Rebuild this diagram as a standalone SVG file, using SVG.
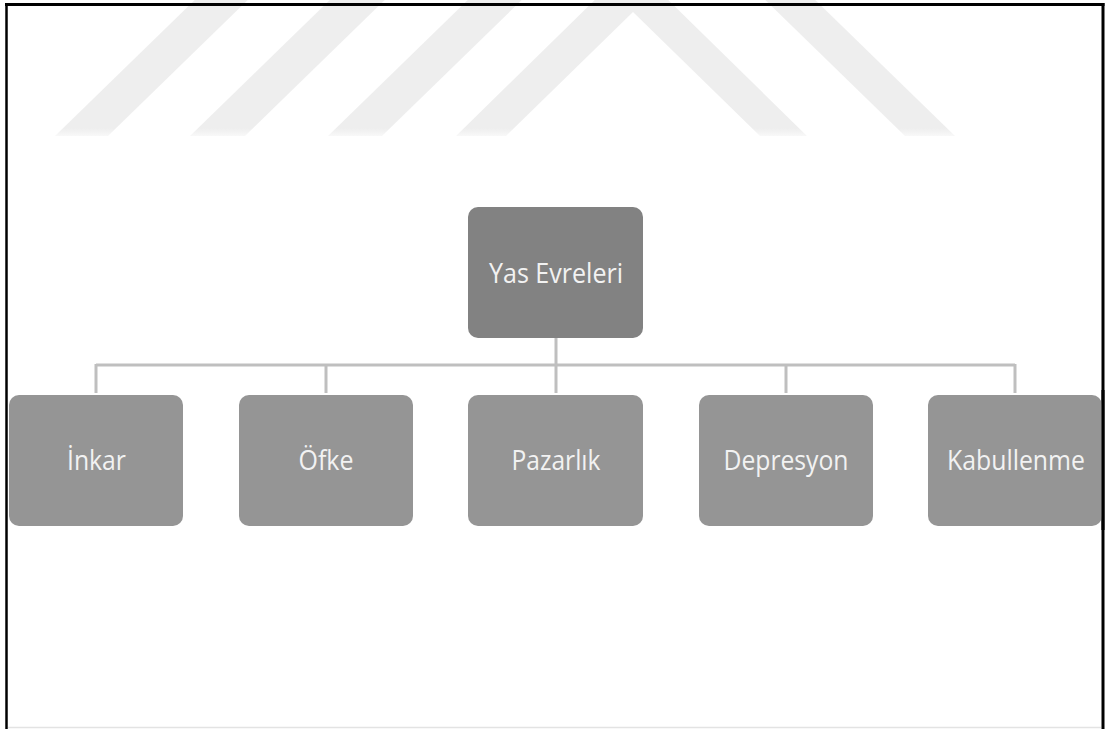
<svg xmlns="http://www.w3.org/2000/svg" width="1107" height="729" viewBox="0 0 1107 729">
  <defs>
    <linearGradient id="fade" gradientUnits="userSpaceOnUse" x1="0" y1="0" x2="0" y2="138">
      <stop offset="0" stop-color="#eeeeee"/>
      <stop offset="0.93" stop-color="#eeeeee"/>
      <stop offset="1" stop-color="#fbfbfb"/>
    </linearGradient>
    <style>
      .stripe { fill: url(#fade); }
      .top { fill: #828282; }
      .child { fill: #959595; }
      .lbl { font-family: "Open Sans", "Noto Sans", sans-serif; font-size: 27px; fill: #f2f2f2; text-anchor: middle; }
      .conn { stroke: #bfbfbf; stroke-width: 3; fill: none; }
    </style>
  </defs>
  <rect x="0" y="0" width="1107" height="729" fill="#ffffff"/>
  <g id="watermark">
    <polygon class="stripe" points="55,136 108,136 258,-10 205,-10"/>
    <polygon class="stripe" points="190,136 245,136 395,-10 340,-10"/>
    <polygon class="stripe" points="328,136 382,136 532,-10 478,-10"/>
    <polygon class="stripe" points="456,136 506,136 633,12 760,136 807,136 631.5,-36"/>
    <polygon class="stripe" points="905,136 955,136 805,-10 755,-10"/>
  </g>
  <g id="frame">
    <line x1="5" y1="4.5" x2="1104.5" y2="4.5" stroke="#000" stroke-width="3"/>
    <line x1="6.5" y1="3" x2="6.5" y2="729" stroke="#000" stroke-width="2.5"/>
    <line x1="1103" y1="3" x2="1103" y2="729" stroke="#000" stroke-width="3"/>
    <line x1="8" y1="727.5" x2="1101" y2="727.5" stroke="#e3e3e3" stroke-width="1.5"/>
  </g>
  <g id="connectors">
    <line class="conn" x1="556" y1="338" x2="556" y2="393"/>
    <line class="conn" x1="96" y1="365" x2="1015" y2="365"/>
    <line class="conn" x1="96" y1="364" x2="96" y2="393"/>
    <line class="conn" x1="326" y1="364" x2="326" y2="393"/>
    <line class="conn" x1="786" y1="364" x2="786" y2="393"/>
    <line class="conn" x1="1015" y1="364" x2="1015" y2="393"/>
  </g>
  <g id="node-root">
    <rect class="top" x="468" y="207" width="175" height="131" rx="10"/>
    <text class="lbl" x="556" y="283" textLength="134" lengthAdjust="spacingAndGlyphs">Yas Evreleri</text>
  </g>
  <g id="node-inkar">
    <rect class="child" x="9" y="395" width="174" height="131" rx="10"/>
    <text class="lbl" x="96.5" y="470" textLength="59" lengthAdjust="spacingAndGlyphs">İnkar</text>
  </g>
  <g id="node-ofke">
    <rect class="child" x="239" y="395" width="174" height="131" rx="10"/>
    <text class="lbl" x="326" y="470" textLength="55" lengthAdjust="spacingAndGlyphs">Öfke</text>
  </g>
  <g id="node-pazarlik">
    <rect class="child" x="468" y="395" width="175" height="131" rx="10"/>
    <text class="lbl" x="556" y="470" textLength="89" lengthAdjust="spacingAndGlyphs">Pazarlık</text>
  </g>
  <g id="node-depresyon">
    <rect class="child" x="699" y="395" width="174" height="131" rx="10"/>
    <text class="lbl" x="786" y="470" textLength="125" lengthAdjust="spacingAndGlyphs">Depresyon</text>
  </g>
  <g id="node-kabullenme">
    <rect class="child" x="928" y="395" width="174" height="131" rx="10"/>
    <text class="lbl" x="1016" y="470" textLength="138" lengthAdjust="spacingAndGlyphs">Kabullenme</text>
  </g>
  <line x1="1103" y1="390" x2="1103" y2="530" stroke="#000" stroke-width="3"/>
</svg>
